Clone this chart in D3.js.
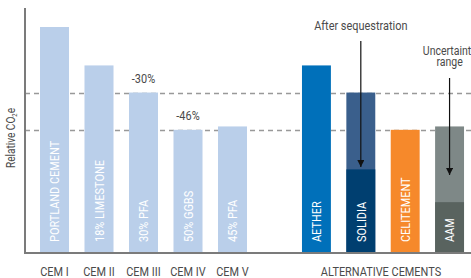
<!DOCTYPE html>
<html>
<head>
<meta charset="utf-8">
<style>
  body { margin: 0; background: #fff; }
  svg { display: block; }
</style>
</head>
<body>
<svg id="chart" width="471" height="278"></svg>
<script src="https://cdn.jsdelivr.net/npm/d3@7"></script>
<script>
// Conventional cements (left group)
const cemCategories = ["CEM I", "CEM II", "CEM III", "CEM IV", "CEM V"];
const cemLabels = ["PORTLAND CEMENT", "18% LIMESTONE", "30% PFA", "50% GGBS", "45% PFA"];
const cemValues = [100, 83, 71, 54.5, 56];

// Alternative cements (right group)
const altCategories = ["AETHER", "SOLIDIA", "CELITEMENT", "AAM"];
const altValues = [83, 71, 54.5, 56];
// lower value after sequestration / uncertainty (null = none)
const altLowValues = [null, 37, null, 22.5];
const altColors = ["#0070ba", "#3a5f8c", "#f6892b", "#7e8887"];
const altLowColors = [null, "#003f70", null, "#59635f"];

// reference levels (dashed) and their notes
const refLevels = [71, 54.5];
const refNotes = ["-30%", "-46%"];
const refNoteCategories = ["CEM III", "CEM IV"];

const svg = d3.select("#chart");
const width = 471, height = 278;
const margin = { top: 8, right: 0, bottom: 25, left: 25 };
const baseY = height - margin.bottom; // 253

const textColor = "#4a4a4a";
const fontFamily = "Roboto";

// condensed look: squeeze the text a bit
function condense(sel, factor = 0.84) {
    sel.each(function() {
        const len = this.getComputedTextLength();
        d3.select(this).attr("textLength", len * factor).attr("lengthAdjust", "spacingAndGlyphs");
    });
}

const yScale = d3.scaleLinear()
    .domain([0, 100])
    .range([baseY, 27]);

const xLeft = d3.scaleBand()
    .domain(cemCategories)
    .range([32.25, 254.75])
    .paddingInner(0.348)
    .paddingOuter(0.174);

const xRight = d3.scaleBand()
    .domain(altCategories)
    .range([294.25, 471.75])
    .paddingInner(0.348)
    .paddingOuter(0.174);

// Dashed reference lines
svg.append("g").selectAll("line")
    .data(refLevels)
    .join("line")
    .attr("x1", margin.left)
    .attr("x2", width)
    .attr("y1", d => Math.round(yScale(d)) + 0.5)
    .attr("y2", d => Math.round(yScale(d)) + 0.5)
    .attr("stroke", "#999")
    .attr("stroke-width", 1.3)
    .attr("stroke-dasharray", "5,4");

// Left bars
const leftBars = svg.append("g");
leftBars.selectAll("rect")
    .data(cemValues)
    .join("rect")
    .attr("x", (d, i) => xLeft(cemCategories[i]))
    .attr("y", d => yScale(d))
    .attr("width", xLeft.bandwidth())
    .attr("height", d => baseY - yScale(d))
    .attr("fill", "#bacfea");

// Right bars (full)
const rightBars = svg.append("g");
rightBars.selectAll("rect.full")
    .data(altValues)
    .join("rect")
    .attr("class", "full")
    .attr("x", (d, i) => xRight(altCategories[i]))
    .attr("y", d => yScale(d))
    .attr("width", xRight.bandwidth())
    .attr("height", d => baseY - yScale(d))
    .attr("fill", (d, i) => altColors[i]);

// Right bars (lower part)
rightBars.selectAll("rect.low")
    .data(altLowValues.map((v, i) => ({ v, i })).filter(d => d.v !== null))
    .join("rect")
    .attr("class", "low")
    .attr("x", d => xRight(altCategories[d.i]))
    .attr("y", d => yScale(d.v))
    .attr("width", xRight.bandwidth())
    .attr("height", d => baseY - yScale(d.v))
    .attr("fill", d => altLowColors[d.i]);

// Labels inside bars (rotated)
function barLabel(x, text) {
    svg.append("text")
        .attr("transform", `translate(${x}, ${baseY - 11}) rotate(-90)`)
        .attr("font-family", fontFamily)
        .attr("font-size", "13px")
        .attr("fill", "#ffffff")
        .attr("text-anchor", "start")
        .attr("dy", "0.36em")
        .text(text)
        .call(condense);
}
cemLabels.forEach((l, i) => barLabel(xLeft(cemCategories[i]) + xLeft.bandwidth() / 2, l));
altCategories.forEach((l, i) => barLabel(xRight(l) + xRight.bandwidth() / 2, l));

// Axis lines
svg.append("line")
    .attr("x1", margin.left).attr("x2", margin.left)
    .attr("y1", margin.top).attr("y2", baseY + 1)
    .attr("stroke", "#7b7b7b").attr("stroke-width", 2);
svg.append("line")
    .attr("x1", margin.left - 1).attr("x2", width)
    .attr("y1", baseY).attr("y2", baseY)
    .attr("stroke", "#7b7b7b").attr("stroke-width", 2);

// Category labels below axis
const bottomText = svg.append("g")
    .attr("font-family", fontFamily)
    .attr("font-size", "13px")
    .attr("fill", textColor)
    .attr("text-anchor", "middle");
bottomText.selectAll("text")
    .data(cemCategories)
    .join("text")
    .attr("x", d => xLeft(d) + xLeft.bandwidth() / 2)
    .attr("y", 276)
    .text(d => d)
    .call(condense);
bottomText.append("text")
    .attr("x", 381)
    .attr("y", 276)
    .text("ALTERNATIVE CEMENTS")
    .call(condense);

// Percent notes above dashed lines
svg.append("g").selectAll("text")
    .data(refNotes)
    .join("text")
    .attr("x", (d, i) => xLeft(refNoteCategories[i]) + xLeft.bandwidth() / 2)
    .attr("y", (d, i) => yScale(refLevels[i]) - 10)
    .attr("font-family", fontFamily)
    .attr("font-size", "13px")
    .attr("fill", textColor)
    .attr("text-anchor", "middle")
    .text(d => d)
    .call(condense);

// Y axis label
const yLabel = svg.append("text")
    .attr("transform", `translate(15, 138) rotate(-90)`)
    .attr("font-family", fontFamily)
    .attr("font-size", "12px")
    .attr("fill", textColor)
    .attr("text-anchor", "middle");
yLabel.append("tspan").text("Relative CO");
yLabel.append("tspan").attr("font-size", "7px").attr("dy", "2").text("2");
yLabel.append("tspan").attr("dy", "-2").text("e");
yLabel.selectAll("tspan").call(condense);

// Arrow marker
svg.append("defs").append("marker")
    .attr("id", "arrow")
    .attr("viewBox", "0 0 10 10")
    .attr("refX", 10).attr("refY", 5)
    .attr("markerWidth", 6).attr("markerHeight", 6)
    .attr("orient", "auto")
    .append("path")
    .attr("d", "M0,0 L10,5 L0,10 z")
    .attr("fill", "#111");

// Annotations: sequestration + uncertainty
const notes = [
    { cat: "SOLIDIA", lines: ["After sequestration"], textY: 30, from: 41, to: 167, size: 13 },
    { cat: "AAM", lines: ["Uncertainty", "range"], textY: 55, from: 78, to: 175, size: 12.5 }
];
notes.forEach(n => {
    const cx = xRight(n.cat) + xRight.bandwidth() / 2;
    const t = svg.append("text")
        .attr("font-family", fontFamily)
        .attr("font-size", n.size + "px")
        .attr("fill", textColor)
        .attr("text-anchor", "middle");
    n.lines.forEach((l, k) => {
        t.append("tspan").attr("x", cx).attr("y", n.textY + k * 11).text(l);
    });
    t.selectAll("tspan").call(condense);
    svg.append("line")
        .attr("x1", cx).attr("x2", cx)
        .attr("y1", n.from)
        .attr("y2", n.to)
        .attr("stroke", "#111")
        .attr("stroke-width", 1.2)
        .attr("marker-end", "url(#arrow)");
});
</script>
</body>
</html>
